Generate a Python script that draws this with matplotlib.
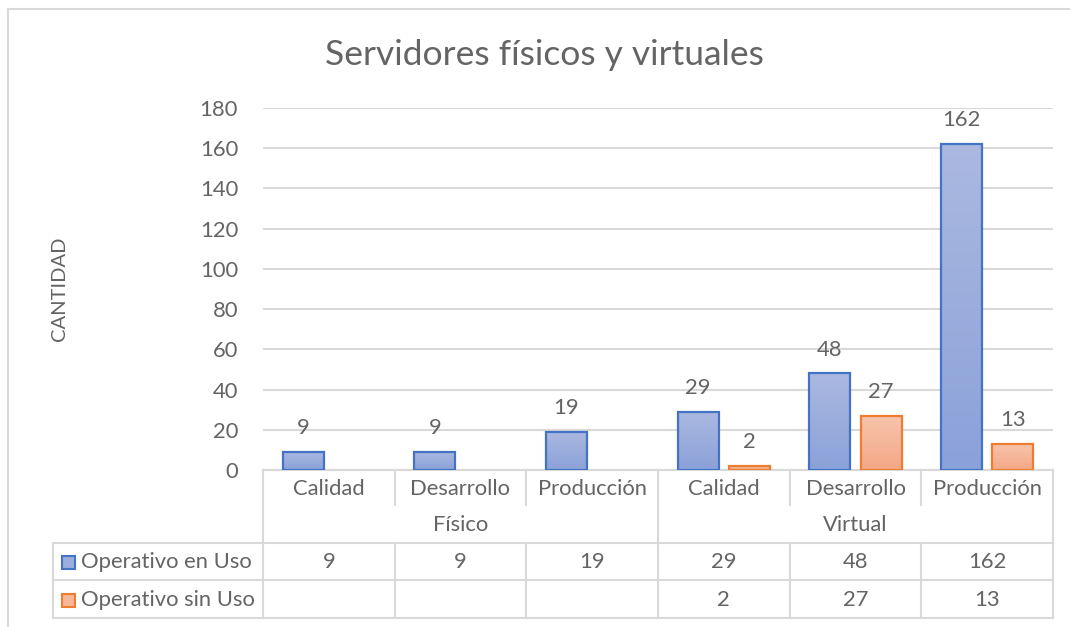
import matplotlib
matplotlib.use("Agg")
import matplotlib.pyplot as plt
import numpy as np
from matplotlib.colors import LinearSegmentedColormap
from matplotlib.patches import Rectangle
import matplotlib.transforms as mtransforms

# ---- data ----
groups = ["Físico", "Virtual"]
categories = ["Calidad", "Desarrollo", "Producción", "Calidad", "Desarrollo", "Producción"]
series_names = ["Operativo en Uso", "Operativo sin Uso"]
en_uso = [9, 9, 19, 29, 48, 162]
sin_uso = [None, None, None, 2, 27, 13]
y_ticks = [0, 20, 40, 60, 80, 100, 120, 140, 160, 180]
title = "Servidores físicos y virtuales"
y_label = "CANTIDAD"

FONT = ["Lato", "DejaVu Sans"]
plt.rcParams["font.family"] = FONT
TXT = "#646464"
GRID = "#D9D9D9"
FS = 15.8

W, H = 1070, 627
fig = plt.figure(figsize=(W / 100, H / 100), dpi=100)
fig.patch.set_facecolor("white")

def fx(px):
    return px / W

def fy(py):
    return 1 - py / H

# outer chart border (extends beyond the image on right / bottom)
fig.add_artist(plt.Line2D([fx(8), fx(8)], [fy(9), fy(640)], color=GRID, lw=1.5))
fig.add_artist(plt.Line2D([fx(8), fx(1080)], [fy(9), fy(9)], color=GRID, lw=1.5))

left, right, top, bottom = 263, 1053, 108, 470
ax = fig.add_axes([fx(left), fy(bottom), fx(right - left), (bottom - top) / H])
ax.set_xlim(-0.5, len(categories) - 0.5)
ax.set_ylim(0, 180)
for s in ax.spines.values():
    s.set_visible(False)
ax.set_yticks(y_ticks)
ax.tick_params(axis="y", length=0, pad=18, labelsize=FS, labelcolor=TXT)
ax.set_xticks([])
ax.grid(axis="y", color=GRID, lw=1.5)
ax.set_axisbelow(True)

blue_cmap = LinearSegmentedColormap.from_list("b", ["#8AA1D9", "#ABB9E0"])
orange_cmap = LinearSegmentedColormap.from_list("o", ["#F4A886", "#F7C4AC"])

bw = 0.31
off = 0.195
x = np.arange(len(categories))

def draw_bar(xc, val, cmap, edge):
    bars = ax.bar([xc], [val], width=bw, color="none", edgecolor=edge, lw=1.6, zorder=3)
    rect = bars[0]
    grad = np.linspace(0, 1, 256).reshape(-1, 1)
    im = ax.imshow(grad, cmap=cmap, origin="lower", aspect="auto",
                   extent=[xc - bw / 2, xc + bw / 2, 0, val], zorder=2)
    im.set_clip_path(rect)
    ax.annotate(str(val), (xc, val), xytext=(0, 10), textcoords="offset points",
                ha="center", va="bottom", fontsize=FS, color=TXT)

for i in range(len(categories)):
    draw_bar(x[i] - off, en_uso[i], blue_cmap, "#4472C4")
    if sin_uso[i] is not None:
        draw_bar(x[i] + off, sin_uso[i], orange_cmap, "#ED7D31")

ax.set_xlim(-0.5, len(categories) - 0.5)
ax.set_ylim(0, 180)

# axis label and title
fig.text(fx(60), fy(289), y_label, rotation=90, ha="center", va="center",
         fontsize=14.5, color=TXT)
fig.text(fx(544), fy(55), title, ha="center", va="center", fontsize=25.5, color=TXT)

# ---- data table beneath the axis ----
tr = mtransforms.blended_transform_factory(ax.transData, fig.transFigure)

def hline(x0, x1, ypx):
    ax.add_line(plt.Line2D([x0, x1], [fy(ypx), fy(ypx)], transform=tr, color=GRID,
                           lw=1.5, clip_on=False))

def vline(xd, y0, y1):
    ax.add_line(plt.Line2D([xd, xd], [fy(y0), fy(y1)], transform=tr, color=GRID,
                           lw=1.5, clip_on=False))

xl = -0.5 + (53 - left) / ((right - left) / len(categories))
x0, x1 = -0.5, len(categories) - 0.5
hline(x0, x1, 470)
hline(xl, x1, 543)
hline(xl, x1, 580)
hline(xl, x1, 618)
vline(x0, 470, 618)
vline(x1, 470, 618)
vline(2.5, 470, 618)
vline(xl, 543, 618)
for b in [0.5, 1.5, 3.5, 4.5]:
    vline(b, 470, 505)
    vline(b, 543, 618)

for i, c in enumerate(categories):
    ax.text(x[i], fy(489), c, transform=tr, ha="center", va="center", fontsize=FS, color=TXT)
    ax.text(x[i], fy(562), str(en_uso[i]), transform=tr, ha="center", va="center",
            fontsize=FS, color=TXT)
    if sin_uso[i] is not None:
        ax.text(x[i], fy(600), str(sin_uso[i]), transform=tr, ha="center", va="center",
                fontsize=FS, color=TXT)
for g, gx in zip(groups, [1, 4]):
    ax.text(gx, fy(525), g, transform=tr, ha="center", va="center", fontsize=FS, color=TXT)

# legend keys in table
for name, ypx, fc, ec in [(series_names[0], 562, "#9AADDD", "#4472C4"),
                          (series_names[1], 600, "#F6B697", "#ED7D31")]:
    fig.add_artist(Rectangle((fx(62), fy(ypx + 6.5)), fx(13), 13 / H, facecolor=fc,
                             edgecolor=ec, lw=1.5, transform=fig.transFigure))
    fig.text(fx(81), fy(ypx), name, ha="left", va="center", fontsize=FS, color=TXT)

fig.savefig("out.png", dpi=100, facecolor="white")
